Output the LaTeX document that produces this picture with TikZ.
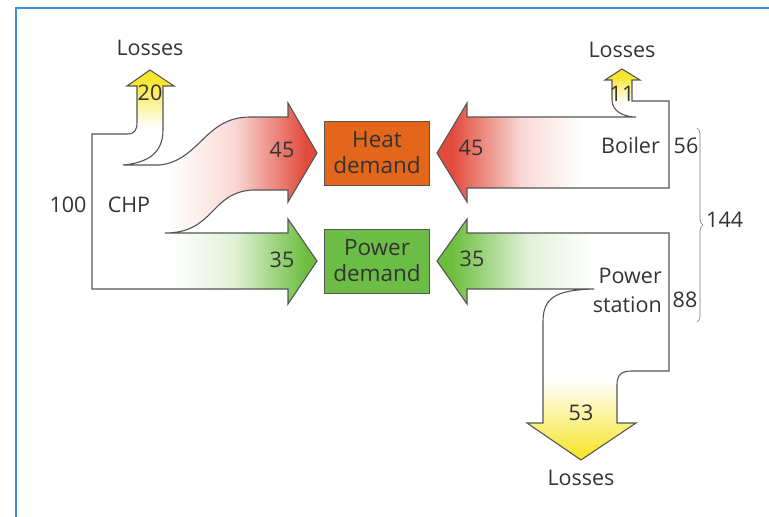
\documentclass[tikz,border=0pt]{standalone}
\usepackage{fontspec}
\setmainfont{Open Sans}
\usetikzlibrary{decorations.pathreplacing}
\definecolor{heatred}{HTML}{E24A3B}
\definecolor{powgreen}{HTML}{6DBE3F}
\definecolor{lossyel}{HTML}{F7E52E}
\definecolor{heatbox}{HTML}{E3661B}
\definecolor{powbox}{HTML}{6CBD45}
\definecolor{outl}{HTML}{555555}
\definecolor{txt}{HTML}{333333}
\definecolor{frameblue}{HTML}{3C90D9}
\begin{document}
\begin{tikzpicture}[x=1pt,y=-1pt,
  lbl/.style={font=\fontsize{21.5}{25}\selectfont, text=txt, inner sep=0pt},
  outline/.style={draw=outl, line width=1.1pt, line join=miter},
  box/.style={draw=outl, line width=0.9pt, minimum width=105pt, minimum height=64pt, align=center, font=\fontsize{22.5}{26}\selectfont, text=txt, inner sep=0pt}]
\useasboundingbox (0,0) rectangle (769,517);
\draw[frameblue, line width=2pt] (16,517) -- (16,8) -- (769,8);

% ---------- CHP fills
\begin{scope}
\clip (123,165) -- (160,165) .. controls (200,160) and (205,117) .. (250,117) -- (288,117) -- (288,103) -- (317,153) -- (288,202) -- (288,190) -- (253,190) .. controls (210,192) and (215,233) .. (165,233) -- cycle;
\shade[left color=white, right color=heatred!22] (170,95) rectangle (236,240);
\shade[left color=heatred!22, right color=heatred] (235,95) rectangle (306,240);
\fill[heatred] (305,95) rectangle (320,240);
\end{scope}
\begin{scope}
\clip (165,233) -- (288,233) -- (288,219) -- (317,261) -- (288,304) -- (288,289) -- (165,289) -- cycle;
\shade[left color=white, right color=powgreen!22] (172,215) rectangle (236,310);
\shade[left color=powgreen!22, right color=powgreen] (235,215) rectangle (306,310);
\fill[powgreen] (305,215) rectangle (320,310);
\end{scope}
\begin{scope}
\clip (137,134) -- (137,86) -- (127,86) -- (150,70) -- (174,86) -- (163,86) -- (163,134) -- cycle;
\shade[top color=lossyel, bottom color=white] (120,80) rectangle (180,127);
\fill[lossyel] (120,65) rectangle (180,81);
\end{scope}
\draw[outline] (92,289) -- (92,134) -- (127,134) .. controls (135,134) and (137,130) .. (137,122) -- (137,86) -- (127,86) -- (150,70) -- (174,86) -- (163,86) -- (163,130) .. controls (163,155) and (145,163) .. (123,165) -- (160,165) .. controls (200,160) and (205,117) .. (250,117) -- (288,117) -- (288,103) -- (317,153) -- (288,202) -- (288,190) -- (253,190) .. controls (210,192) and (215,233) .. (165,233) -- (288,233) -- (288,219) -- (317,261) -- (288,304) -- (288,289) -- cycle;

% ---------- Boiler fills
\begin{scope}
\clip (636,117) -- (467,117) -- (467,103) -- (437,153) -- (467,202) -- (467,188) -- (669,188) -- (669,117) -- cycle;
\shade[left color=heatred, right color=heatred!22] (452,95) rectangle (521,210);
\shade[left color=heatred!22, right color=white] (520,95) rectangle (580,210);
\fill[heatred] (430,95) rectangle (453,210);
\end{scope}
\begin{scope}
\clip (612,117) -- (612,80) -- (605,80) -- (622,69) -- (640,80) -- (632,80) -- (632,117) -- cycle;
\shade[top color=lossyel, bottom color=white] (600,76) rectangle (645,102);
\fill[lossyel] (600,65) rectangle (645,77);
\end{scope}
\draw[outline] (669,188) -- (467,188) -- (467,202) -- (437,153) -- (467,103) -- (467,117) -- (636,117) .. controls (625,117) and (612,112) .. (612,100) -- (612,80) -- (605,80) -- (622,69) -- (640,80) -- (632,80) -- (632,101) -- (669,101) -- cycle;

% ---------- Power station fills
\begin{scope}
\clip (669,233) -- (467,233) -- (467,219) -- (437,261) -- (467,304) -- (467,289) -- (669,289) -- cycle;
\shade[left color=powgreen, right color=powgreen!22] (452,215) rectangle (526,310);
\shade[left color=powgreen!22, right color=white] (525,215) rectangle (592,310);
\fill[powgreen] (430,215) rectangle (453,310);
\end{scope}
\begin{scope}
\clip (543,290) -- (543,423) -- (527,423) -- (581,460) -- (636,423) -- (617,423) -- (617,290) -- cycle;
\shade[top color=white, bottom color=lossyel] (520,380) rectangle (640,455);
\fill[lossyel] (520,454) rectangle (640,465);
\end{scope}
\draw[outline] (669,233) -- (467,233) -- (467,219) -- (437,261) -- (467,304) -- (467,289) -- (594,289) .. controls (555,290) and (543,298) .. (543,322) -- (543,423) -- (527,423) -- (581,460) -- (636,423) -- (617,423) -- (617,385) .. controls (617,375) and (621,371) .. (632,371) -- (669,371) -- cycle;

% ---------- brace
\draw[decorate, decoration={brace, amplitude=6pt}, outl!80, line width=0.6pt] (697,128) -- (697,322);

% ---------- boxes and labels
\node[box, fill=heatbox] (heat) at (377,153) {Heat\\demand};
\node[box, fill=powbox] (pow) at (377,261) {Power\\demand};
\node[lbl] (l1) at (150,48) {Losses};
\node[lbl] (n20) at (150,93) {20};
\node[lbl] (n100) at (68,205) {100};
\node[lbl] (chp) at (129,205) {CHP};
\node[lbl] (n45a) at (282,150) {45};
\node[lbl] (n35a) at (282,260) {35};
\node[lbl] (n45b) at (471,148) {45};
\node[lbl] (n35b) at (472,259) {35};
\node[lbl] (l2) at (622,50) {Losses};
\node[lbl] (n11) at (622,94) {11};
\node[lbl, anchor=east] (boiler) at (660,145) {Boiler};
\node[lbl] (n56) at (686,146) {56};
\node[lbl, align=right, anchor=east] (ps) at (662,290) {Power\\[4pt]station};
\node[lbl] (n88) at (685,300) {88};
\node[lbl, anchor=west] (n144) at (706,220) {144};
\node[lbl] (n53) at (581,413) {53};
\node[lbl] (l3) at (581,478) {Losses};
\end{tikzpicture}
\end{document}
